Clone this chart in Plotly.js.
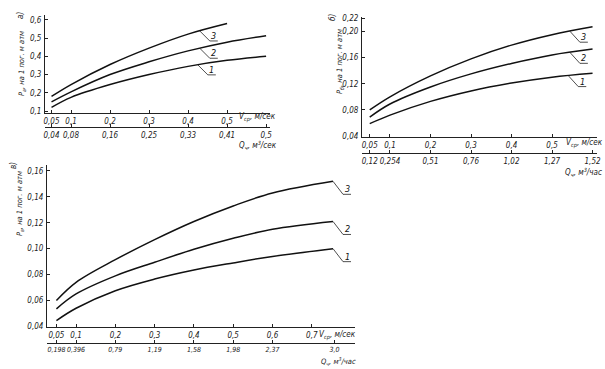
<!DOCTYPE html>
<html><head><meta charset="utf-8">
<script src="https://cdn.plot.ly/plotly-3.0.1.min.js"></script>
<style>html,body{margin:0;padding:0;background:#fff}#c{width:605px;height:369px}</style>
</head><body><div id="c"></div>
<script>
// Panel а
const vA = [0.05, 0.1, 0.2, 0.3, 0.4, 0.5, 0.6];
const vA3 = [0.05, 0.1, 0.2, 0.3, 0.4, 0.5];
const a1 = [0.12, 0.175, 0.245, 0.30, 0.345, 0.378, 0.40];
const a2 = [0.15, 0.205, 0.30, 0.37, 0.43, 0.478, 0.513];
const a3 = [0.18, 0.245, 0.355, 0.445, 0.522, 0.58];
const aVTicks = ["0,05", "0,1", "0,2", "0,3", "0,4", "0,5"];
const aQTicks = ["0,04", "0,08", "0,16", "0,25", "0,33", "0,41", "0,5"];
const aYVals = [0.1, 0.2, 0.3, 0.4, 0.5, 0.6];
const aYTicks = ["0,1", "0,2", "0,3", "0,4", "0,5", "0,6"];
// Panel б
const vB = [0.05, 0.1, 0.2, 0.3, 0.4, 0.5, 0.6];
const b1 = [0.059, 0.072, 0.093, 0.109, 0.121, 0.130, 0.136];
const b2 = [0.069, 0.089, 0.115, 0.135, 0.151, 0.164, 0.173];
const b3 = [0.080, 0.100, 0.132, 0.158, 0.179, 0.195, 0.207];
const bVTicks = ["0,05", "0,1", "0,2", "0,3", "0,4", "0,5"];
const bQTicks = ["0,12", "0,254", "0,51", "0,76", "1,02", "1,27", "1,52"];
const bYVals = [0.04, 0.08, 0.12, 0.16, 0.20, 0.22];
const bYTicks = ["0,04", "0,08", "0,12", "0,16", "0,20", "0,22"];
// Panel в
const vC = [0.05, 0.1, 0.2, 0.3, 0.4, 0.5, 0.6, 0.754];
const c1 = [0.0445, 0.054, 0.0675, 0.0765, 0.0835, 0.089, 0.094, 0.100];
const c2 = [0.0535, 0.065, 0.079, 0.0895, 0.0995, 0.108, 0.115, 0.121];
const c3 = [0.060, 0.074, 0.0915, 0.107, 0.121, 0.133, 0.143, 0.152];
const cVTicks = ["0,05", "0,1", "0,2", "0,3", "0,4", "0,5", "0,6", "0,7"];
const cVVals = [0.05, 0.1, 0.2, 0.3, 0.4, 0.5, 0.6, 0.7];
const cQVals = [0.05, 0.1, 0.2, 0.3, 0.4, 0.5, 0.6, 0.758];
const cQTicks = ["0,198", "0,396", "0,79", "1,19", "1,58", "1,98", "2,37", "3,0"];
const cYVals = [0.04, 0.06, 0.08, 0.10, 0.12, 0.14, 0.16];
const cYTicks = ["0,04", "0,06", "0,08", "0,10", "0,12", "0,14", "0,16"];
const curveNames = ["1", "2", "3"];

const FONT = "Liberation Sans Narrow, DejaVu Sans Condensed, Arial Narrow, sans-serif";
const tf = {family: FONT, size: 8, color: "#222", style: "italic"};
const tf7 = Object.assign({}, tf, {size: 7.5});
const tf65 = Object.assign({}, tf, {size: 7});
const W = 605, H = 369;
const px = x => x / W, py = y => 1 - y / H;

function interp(xs, ys, x) {
  for (let i = 0; i < xs.length - 1; i++) {
    if (x >= xs[i] && x <= xs[i + 1]) {
      const t = (x - xs[i]) / (xs[i + 1] - xs[i]);
      return ys[i] + t * (ys[i + 1] - ys[i]);
    }
  }
  return ys[ys.length - 1];
}

const line = {color: "#111", width: 1.5, shape: "spline", smoothing: 1};
const traces = [];
function addCurves(xs, ysList, xa, ya) {
  ysList.forEach((ys, i) => {
    traces.push({x: xs[i], y: ys, xaxis: xa, yaxis: ya, mode: "lines", line: line, hoverinfo: "skip", name: curveNames[i]});
  });
}
addCurves([vA, vA, vA3], [a1, a2, a3], "x", "y");
addCurves([vB, vB, vB], [b1, b2, b3], "x2", "y2");
addCurves([vC, vC, vC], [c1, c2, c3], "x3", "y3");
traces.push({x: [], y: [], xaxis: "x4", yaxis: "y", mode: "lines", hoverinfo: "skip"});
traces.push({x: [], y: [], xaxis: "x5", yaxis: "y2", mode: "lines", hoverinfo: "skip"});
traces.push({x: [], y: [], xaxis: "x6", yaxis: "y3", mode: "lines", hoverinfo: "skip"});

function xax(dom, range, vals, text, anchor, font) {
  return {domain: dom, range: range, tickvals: vals, ticktext: text, anchor: anchor, tickangle: 0,
    showline: true, linecolor: "#222", linewidth: 1, ticks: "inside", ticklen: 3, tickcolor: "#222",
    showgrid: false, zeroline: false, tickfont: font || tf, fixedrange: true, ticklabelstandoff: 0};
}
function qax(dom, range, vals, text, over, pos, font) {
  const a = xax(dom, range, vals, text, "free", font);
  a.overlaying = over; a.position = pos;
  return a;
}
function yax(dom, range, vals, text, anchor) {
  return {domain: dom, range: range, tickvals: vals, ticktext: text, anchor: anchor, tickangle: 0,
    showline: true, linecolor: "#222", linewidth: 1, ticks: "inside", ticklen: 3, tickcolor: "#222",
    showgrid: false, zeroline: false, tickfont: tf, fixedrange: true, ticklabelstandoff: 1};
}

const domA = [px(45), px(270)], domB = [px(362), px(597)], domC = [px(47), px(355)];
const rA = [0.0333, 0.610], rB = [0.0309, 0.611], rC = [0.026, 0.81];

const layout = {
  width: W, height: H, margin: {l: 0, r: 0, t: 0, b: 0},
  paper_bgcolor: "#fff", plot_bgcolor: "rgba(0,0,0,0)", showlegend: false,
  xaxis: xax(domA, rA, vA.slice(0, 6), aVTicks, "y"),
  yaxis: yax([py(113), py(15)], [0.089, 0.627], aYVals, aYTicks, "x"),
  xaxis2: xax(domB, rB, vB.slice(0, 6), bVTicks, "y2"),
  yaxis2: yax([py(137), py(17)], [0.0385, 0.222], bYVals, bYTicks, "x2"),
  xaxis3: xax(domC, rC, cVVals, cVTicks, "y3"),
  yaxis3: yax([py(327), py(165)], [0.0395, 0.1646], cYVals, cYTicks, "x3"),
  xaxis4: qax(domA, rA, vA, aQTicks, "x", py(127)),
  xaxis5: qax(domB, rB, vB, bQTicks, "x2", py(153)),
  xaxis6: qax(domC, rC, cQVals, cQTicks, "x3", py(343), tf65),
  shapes: [], annotations: []
};

// leader lines with numbers
function leaders(xa, ya, vAt, xsList, ysList, dy) {
  ysList.forEach((ys, i) => {
    const yv = interp(xsList[i], ys, vAt[i]);
    const base = {type: "line", xref: xa, yref: ya, xsizemode: "pixel", ysizemode: "pixel",
      xanchor: vAt[i], yanchor: yv, line: {color: "#222", width: 0.8}};
    layout.shapes.push(Object.assign({}, base, {x0: 0, y0: 0, x1: 10, y1: -dy}));
    layout.shapes.push(Object.assign({}, base, {x0: 10, y0: -dy, x1: 18, y1: -dy}));
    layout.annotations.push({xref: xa, yref: ya, x: vAt[i], y: yv, xshift: 14, yshift: -dy + 5,
      text: curveNames[i], showarrow: false, font: {family: FONT, size: 9, color: "#111", style: "italic"}});
  });
}
leaders("x", "y", [0.425, 0.43, 0.43], [vA, vA, vA3], [a1, a2, a3], 10);
leaders("x2", "y2", [0.54, 0.544, 0.544], [vB, vB, vB], [b1, b2, b3], 11);
leaders("x3", "y3", [0.754, 0.754, 0.754], [vC, vC, vC], [c1, c2, c3], 13);

function ann(x, y, text, opts) {
  layout.annotations.push(Object.assign({xref: "paper", yref: "paper", x: px(x), y: py(y), text: text,
    showarrow: false, font: tf, xanchor: "center", yanchor: "middle"}, opts || {}));
}
ann(257, 118, "V<sub>ср</sub>, м/сек");
ann(258, 145, "Q<sub>ч</sub>, м<sup>3</sup>/сек");
ann(584, 143, "V<sub>ср</sub>, м/сек");
ann(583, 172, "Q<sub>ч</sub>, м<sup>3</sup>/час");
ann(337, 335, "V<sub>ср</sub>, м/сек");
ann(338, 361, "Q<sub>ч</sub>, м<sup>3</sup>/час", {font: tf7});
ann(22, 64, "Р<sub>а</sub>, на 1 пог. м атм", {textangle: -90, font: tf7});
ann(340, 62, "Р<sub>б</sub>, на 1 пог. м атм", {textangle: -90, font: tf7});
ann(20, 204, "Р<sub>в</sub>, на 1 пог. м атм", {textangle: -90, font: tf7});
ann(20, 16, "а)", {textangle: -90});
ann(332, 18, "б)", {textangle: -90});
ann(13, 166, "в)", {textangle: -90});

Plotly.newPlot("c", traces, layout, {staticPlot: true, displayModeBar: false});
</script></body></html>
